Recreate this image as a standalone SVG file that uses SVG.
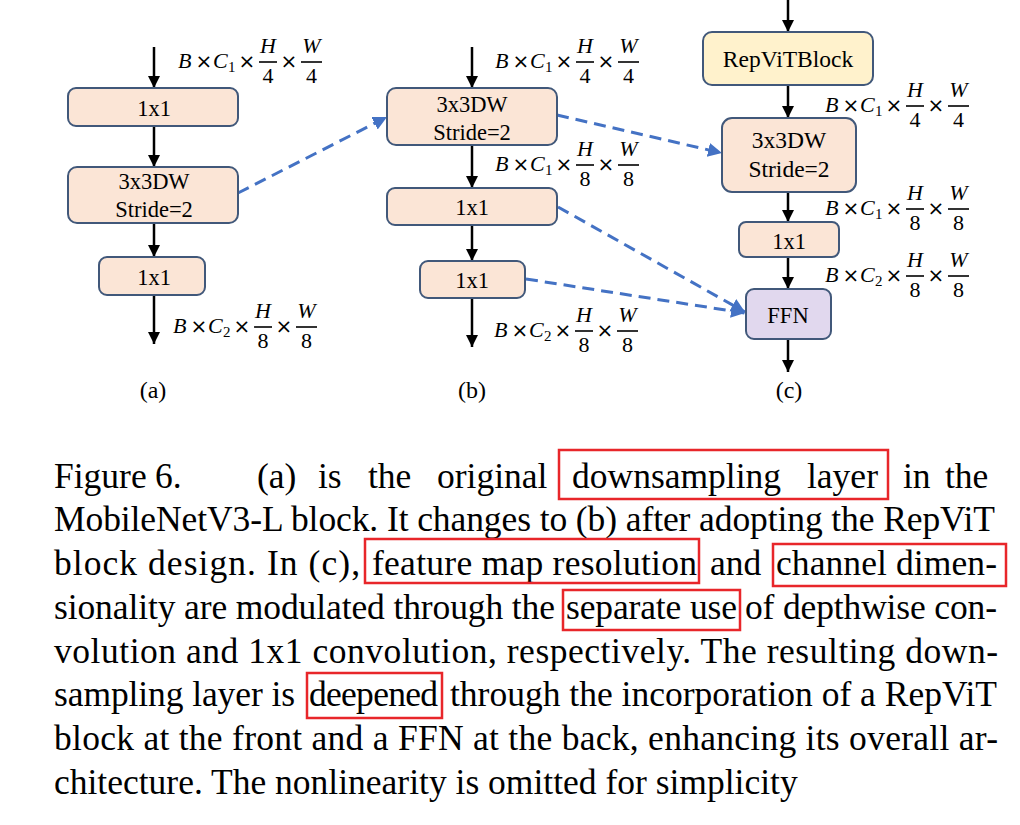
<svg xmlns="http://www.w3.org/2000/svg" width="1020" height="825" viewBox="0 0 1020 825">
<style>
.box{fill:#FBE5D6;stroke:#41587A;stroke-width:2}
.yel{fill:#FFF2CC;stroke:#41587A;stroke-width:2}
.pur{fill:#E1D8EE;stroke:#41587A;stroke-width:2}
.bt{font-family:"Liberation Serif",serif;font-size:22.5px;fill:#000;text-anchor:middle}
.sub{font-family:"Liberation Serif",serif;font-size:24px;fill:#000;text-anchor:middle}
.m{font-family:"Liberation Serif",serif;font-size:22px;fill:#000}
.x{font-family:"DejaVu Sans",sans-serif;font-size:20px;fill:#000;text-anchor:middle}
.mi{font-style:italic}
.sm{font-size:15px}
.c{text-anchor:middle}
.bar{stroke:#000;stroke-width:1.6}
.arr{stroke:#000;stroke-width:2.5;fill:none;marker-end:url(#ah)}
.dash{stroke:#4472C4;stroke-width:3;fill:none;stroke-dasharray:12 7;marker-end:url(#bh)}
.cap{font-family:"Liberation Serif",serif;font-size:35.5px;fill:#000}
.red{fill:none;stroke:#E8262A;stroke-width:2.5}
</style>
<defs>
<marker id="ah" markerUnits="userSpaceOnUse" markerWidth="14" markerHeight="14" refX="12" refY="6" orient="auto"><path d="M0,0 L12,6 L0,12 Z" fill="#000"/></marker>
<marker id="bh" markerUnits="userSpaceOnUse" markerWidth="16" markerHeight="16" refX="14" refY="7" orient="auto"><path d="M0,0 L14,7 L0,14 Z" fill="#4472C4"/></marker>
<g id="lbl">
<text class="m mi" x="0" y="0">B</text>
<text class="x" x="26" y="0">×</text>
<text class="m mi" x="35" y="0">C</text>
<text class="x" x="69" y="0">×</text>
<line class="bar" x1="81" y1="-6" x2="99" y2="-6"/>
<text class="m mi c" x="90" y="-15">H</text>
<text class="x" x="111" y="0">×</text>
<line class="bar" x1="123" y1="-6" x2="144" y2="-6"/>
<text class="m mi c" x="133.5" y="-15">W</text>
</g>
</defs>

<g id="connectors">
<line class="arr" x1="154" y1="47" x2="154" y2="88"/>
<line class="arr" x1="154" y1="126" x2="154" y2="167"/>
<line class="arr" x1="154" y1="223" x2="154" y2="257"/>
<line class="arr" x1="154" y1="295" x2="154" y2="344"/>
<line class="arr" x1="472" y1="47" x2="472" y2="88"/>
<line class="arr" x1="472" y1="145" x2="472" y2="188"/>
<line class="arr" x1="472" y1="225" x2="472" y2="261"/>
<line class="arr" x1="472" y1="298" x2="472" y2="347"/>
<line class="arr" x1="788" y1="0" x2="788" y2="32"/>
<line class="arr" x1="788" y1="85" x2="788" y2="118"/>
<line class="arr" x1="788" y1="192" x2="788" y2="222"/>
<line class="arr" x1="788" y1="257" x2="788" y2="289"/>
<line class="arr" x1="788" y1="339" x2="788" y2="372"/>
<line class="dash" x1="238" y1="193" x2="387" y2="117"/>
<line class="dash" x1="557" y1="115" x2="722" y2="153"/>
<line class="dash" x1="558" y1="207" x2="745" y2="312"/>
<line class="dash" x1="526" y1="279" x2="745" y2="313"/>
</g>

<g id="a1x1a"><rect class="box" x="68" y="88" width="170" height="38" rx="8"/><text class="bt" x="154" y="116">1x1</text></g>
<g id="a3x3"><rect class="box" x="68" y="167" width="170" height="56" rx="9"/><text class="bt" x="154" y="189">3x3DW</text><text class="bt" x="154" y="217">Stride=2</text></g>
<g id="a1x1b"><rect class="box" x="99" y="257" width="106" height="38" rx="8"/><text class="bt" x="154" y="285">1x1</text></g>

<g id="b3x3"><rect class="box" x="387" y="88" width="170" height="57" rx="9"/><text class="bt" x="472" y="112">3x3DW</text><text class="bt" x="472" y="140">Stride=2</text></g>
<g id="b1x1a"><rect class="box" x="387" y="188" width="170" height="37" rx="8"/><text class="bt" x="472" y="215">1x1</text></g>
<g id="b1x1b"><rect class="box" x="420" y="261" width="105" height="37" rx="8"/><text class="bt" x="472" y="288">1x1</text></g>

<g id="cRep"><rect class="yel" x="703" y="32" width="170" height="53" rx="9"/><text class="bt" x="788" y="67" style="font-size:23.5px">RepViTBlock</text></g>
<g id="c3x3"><rect class="box" x="722" y="118" width="134" height="74" rx="10"/><text class="bt" x="789" y="148" style="font-size:23.5px">3x3DW</text><text class="bt" x="789" y="177" style="font-size:23.5px">Stride=2</text></g>
<g id="c1x1"><rect class="box" x="739" y="222" width="100" height="35" rx="7"/><text class="bt" x="789" y="249">1x1</text></g>
<g id="cFFN"><rect class="pur" x="746" y="289" width="85" height="50" rx="8"/><text class="bt" x="788" y="323">FFN</text></g>

<g id="labels">
<g transform="translate(178,68)"><use href="#lbl"/><text class="m sm" x="50" y="4">1</text><text class="m c" x="90" y="15">4</text><text class="m c" x="133.5" y="15">4</text></g>
<g transform="translate(173,333)"><use href="#lbl"/><text class="m sm" x="50" y="4">2</text><text class="m c" x="90" y="15">8</text><text class="m c" x="133.5" y="15">8</text></g>
<g transform="translate(495,68)"><use href="#lbl"/><text class="m sm" x="50" y="4">1</text><text class="m c" x="90" y="15">4</text><text class="m c" x="133.5" y="15">4</text></g>
<g transform="translate(495,171)"><use href="#lbl"/><text class="m sm" x="50" y="4">1</text><text class="m c" x="90" y="15">8</text><text class="m c" x="133.5" y="15">8</text></g>
<g transform="translate(494,337)"><use href="#lbl"/><text class="m sm" x="50" y="4">2</text><text class="m c" x="90" y="15">8</text><text class="m c" x="133.5" y="15">8</text></g>
<g transform="translate(825,112)"><use href="#lbl"/><text class="m sm" x="50" y="4">1</text><text class="m c" x="90" y="15">4</text><text class="m c" x="133.5" y="15">4</text></g>
<g transform="translate(825,215)"><use href="#lbl"/><text class="m sm" x="50" y="4">1</text><text class="m c" x="90" y="15">8</text><text class="m c" x="133.5" y="15">8</text></g>
<g transform="translate(825,282)"><use href="#lbl"/><text class="m sm" x="50" y="4">2</text><text class="m c" x="90" y="15">8</text><text class="m c" x="133.5" y="15">8</text></g>
<text class="sub" x="153" y="398">(a)</text>
<text class="sub" x="472" y="398">(b)</text>
<text class="sub" x="789" y="398">(c)</text>
</g>

<g id="caption">
<text class="cap" y="488"><tspan x="54">Figure</tspan><tspan x="155">6.</tspan><tspan x="257">(a)</tspan><tspan x="318">is</tspan><tspan x="368">the</tspan><tspan x="437">original</tspan><tspan x="572">downsampling</tspan><tspan x="807">layer</tspan><tspan x="903">in</tspan><tspan x="945">the</tspan></text>
<text class="cap" x="54" y="531" textLength="941" lengthAdjust="spacing">MobileNetV3-L block. It changes to (b) after adopting the RepViT</text>
<text class="cap" x="54" y="575" textLength="306" lengthAdjust="spacing">block design.  In (c),</text>
<text class="cap" x="372" y="575" textLength="325" lengthAdjust="spacing">feature map resolution</text>
<text class="cap" x="710" y="575">and</text>
<text class="cap" x="776" y="575" textLength="221" lengthAdjust="spacing">channel dimen-</text>
<text class="cap" x="54" y="619" textLength="501" lengthAdjust="spacing">sionality are modulated through the</text>
<text class="cap" x="566" y="619" textLength="171" lengthAdjust="spacing">separate use</text>
<text class="cap" x="745" y="619" textLength="252" lengthAdjust="spacing">of depthwise con-</text>
<text class="cap" x="54" y="663" textLength="944" lengthAdjust="spacing">volution and 1x1 convolution, respectively.  The resulting down-</text>
<text class="cap" x="54" y="706" textLength="241" lengthAdjust="spacing">sampling layer is</text>
<text class="cap" x="309" y="706" textLength="129" lengthAdjust="spacing">deepened</text>
<text class="cap" x="450" y="706" textLength="547" lengthAdjust="spacing">through the incorporation of a RepViT</text>
<text class="cap" x="54" y="750" textLength="944" lengthAdjust="spacing">block at the front and a FFN at the back, enhancing its overall ar-</text>
<text class="cap" x="54" y="794">chitecture. The nonlinearity is omitted for simplicity</text>
<rect class="red" x="559" y="450" width="329" height="49"/>
<rect class="red" x="365" y="539" width="334" height="44"/>
<rect class="red" x="773" y="544" width="233" height="42"/>
<rect class="red" x="563" y="590" width="177" height="40"/>
<rect class="red" x="307" y="673" width="135" height="45"/>
</g>
</svg>
